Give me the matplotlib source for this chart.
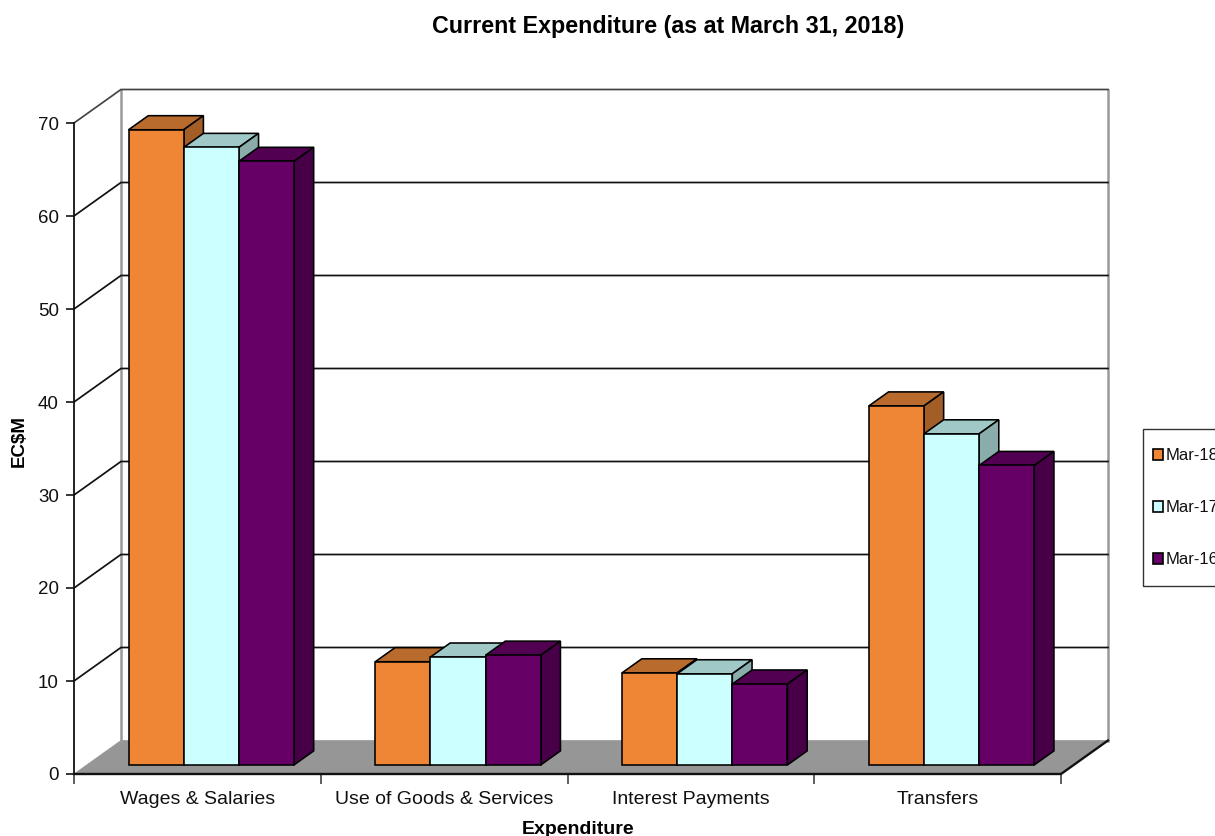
import matplotlib
matplotlib.use("Agg")
import matplotlib.pyplot as plt
from matplotlib.patches import Polygon, Patch, Rectangle

plt.rcParams['font.family'] = ['Liberation Sans', 'DejaVu Sans']

categories = ["Wages & Salaries", "Use of Goods & Services", "Interest Payments", "Transfers"]
series_names = ["Mar-18", "Mar-17", "Mar-16"]
mar18 = [68.3, 11.1, 9.9, 38.6]
mar17 = [66.4, 11.6, 9.8, 35.6]
mar16 = [64.9, 11.8, 8.7, 32.2]
y_ticks = [0, 10, 20, 30, 40, 50, 60, 70]

W, H = 1215, 836
L, R, T, B = 74, 1061, 123, 774
DX = 47 / 247      # full depth in category units
DY = 33.5 / 9.3    # full depth in value units
D_FRONT, D_BACK = 0.27, 0.69
BAR_W = 55.2 / 247
SHIFT = 1.2 / 247

faces = [("#EF8636", "#B96A2D", "#A35D27"),
         ("#CCFFFF", "#A0C8C6", "#8AADAB"),
         ("#660066", "#520052", "#470047")]

fig = plt.figure(figsize=(W / 100, H / 100), dpi=100, facecolor="white")
ax = fig.add_axes([L / W, 1 - B / H, (R - L) / W, (B - T) / H])
ax.set_xlim(0, 4)
ax.set_ylim(0, 70)
ax.patch.set_alpha(0)


def P(x, y, d):
    return (x + d * DX, y + d * DY)


def poly(pts, fc="none", ec="black", lw=1.15, z=3):
    ax.add_patch(Polygon(pts, closed=True, facecolor=fc, edgecolor=ec, linewidth=lw,
                         joinstyle="miter", clip_on=False, zorder=z))


# floor
poly([P(0, 0, 0), P(4, 0, 0), P(4, 0, 1), P(0, 0, 1)], fc="#969696", ec="#969696", lw=0.5, z=1)
# walls
ax.plot(*zip(P(0, 0, 1), P(0, 70, 1)), color="#9a9a9a", lw=1.8, clip_on=False, zorder=1)
ax.plot(*zip(P(4, 0, 1), P(4, 70, 1)), color="#9a9a9a", lw=1.8, clip_on=False, zorder=1)
# gridlines on side and back walls
for v in y_ticks[1:]:
    col = "#444444" if v == 70 else "#111111"
    ax.plot(*zip(P(0, v, 0), P(0, v, 1), P(4, v, 1)), color=col, lw=1.25, clip_on=False, zorder=1.5)
# front floor edges
ax.plot(*zip(P(0, 0, 0), P(4, 0, 0), P(4, 0, 1)), color="#111111", lw=1.7, clip_on=False, zorder=2)

# bars, painted left to right
for i, cat in enumerate(categories):
    for s, vals in enumerate([mar18, mar17, mar16]):
        x0 = i + 0.5 - 1.5 * BAR_W + s * BAR_W + SHIFT
        x1 = x0 + BAR_W
        v = vals[i]
        front, top, side = faces[s]
        z = 3 + i + s * 0.1
        poly([P(x0, v, D_FRONT), P(x1, v, D_FRONT), P(x1, v, D_BACK), P(x0, v, D_BACK)], fc=top, z=z)
        poly([P(x1, 0, D_FRONT), P(x1, 0, D_BACK), P(x1, v, D_BACK), P(x1, v, D_FRONT)], fc=side, z=z)
        poly([P(x0, 0, D_FRONT), P(x1, 0, D_FRONT), P(x1, v, D_FRONT), P(x0, v, D_FRONT)], fc=front, z=z + 0.01)

# axes furniture
for name in ("top", "right", "bottom"):
    ax.spines[name].set_visible(False)
ax.spines["left"].set_linewidth(1.3)
ax.spines["left"].set_color("#111111")
ax.set_yticks(y_ticks)
ax.set_xticks(range(5))
ax.set_xticklabels([])
ax.set_xticks([i + 0.5 for i in range(4)], categories, minor=True)
ax.tick_params(axis="x", which="major", length=7, width=1.1, color="#333333")
ax.tick_params(axis="x", which="minor", length=0, pad=12.5, labelsize=14, labelcolor="#111111")
ax.tick_params(axis="y", length=6, width=1.1, pad=5, labelsize=13.5, labelcolor="#111111")

fig.text(668.5 / W, 1 - 26 / H, "Current Expenditure (as at March 31, 2018)", ha="center", va="center",
         fontsize=16.75, fontweight="bold", color="black")
fig.text(578 / W, 1 - 829.5 / H, "Expenditure", ha="center", va="center", fontsize=14, fontweight="bold")
fig.text(19 / W, 1 - 441 / H, "EC$M", rotation=90, ha="center", va="center", fontsize=13.5, fontweight="bold")

# legend frame runs past the figure's right edge, as in the reference
fig.add_artist(Rectangle((1143 / W, 1 - 586 / H), 90 / W, 157 / H, transform=fig.transFigure,
                         facecolor="white", edgecolor="#333333", linewidth=1.0))
handles = [Patch(facecolor=f[0], edgecolor="black", linewidth=1.2) for f in faces]
leg = fig.legend(handles, series_names, loc="upper left", bbox_to_anchor=(1153 / W, 1 - 448 / H),
                 bbox_transform=fig.transFigure, fontsize=12, frameon=False,
                 borderaxespad=0, borderpad=0, labelspacing=2.22, handlelength=0.6, handleheight=0.62,
                 handletextpad=0.18, labelcolor="#111111")

fig.savefig("out.png", dpi=100, facecolor="white")
